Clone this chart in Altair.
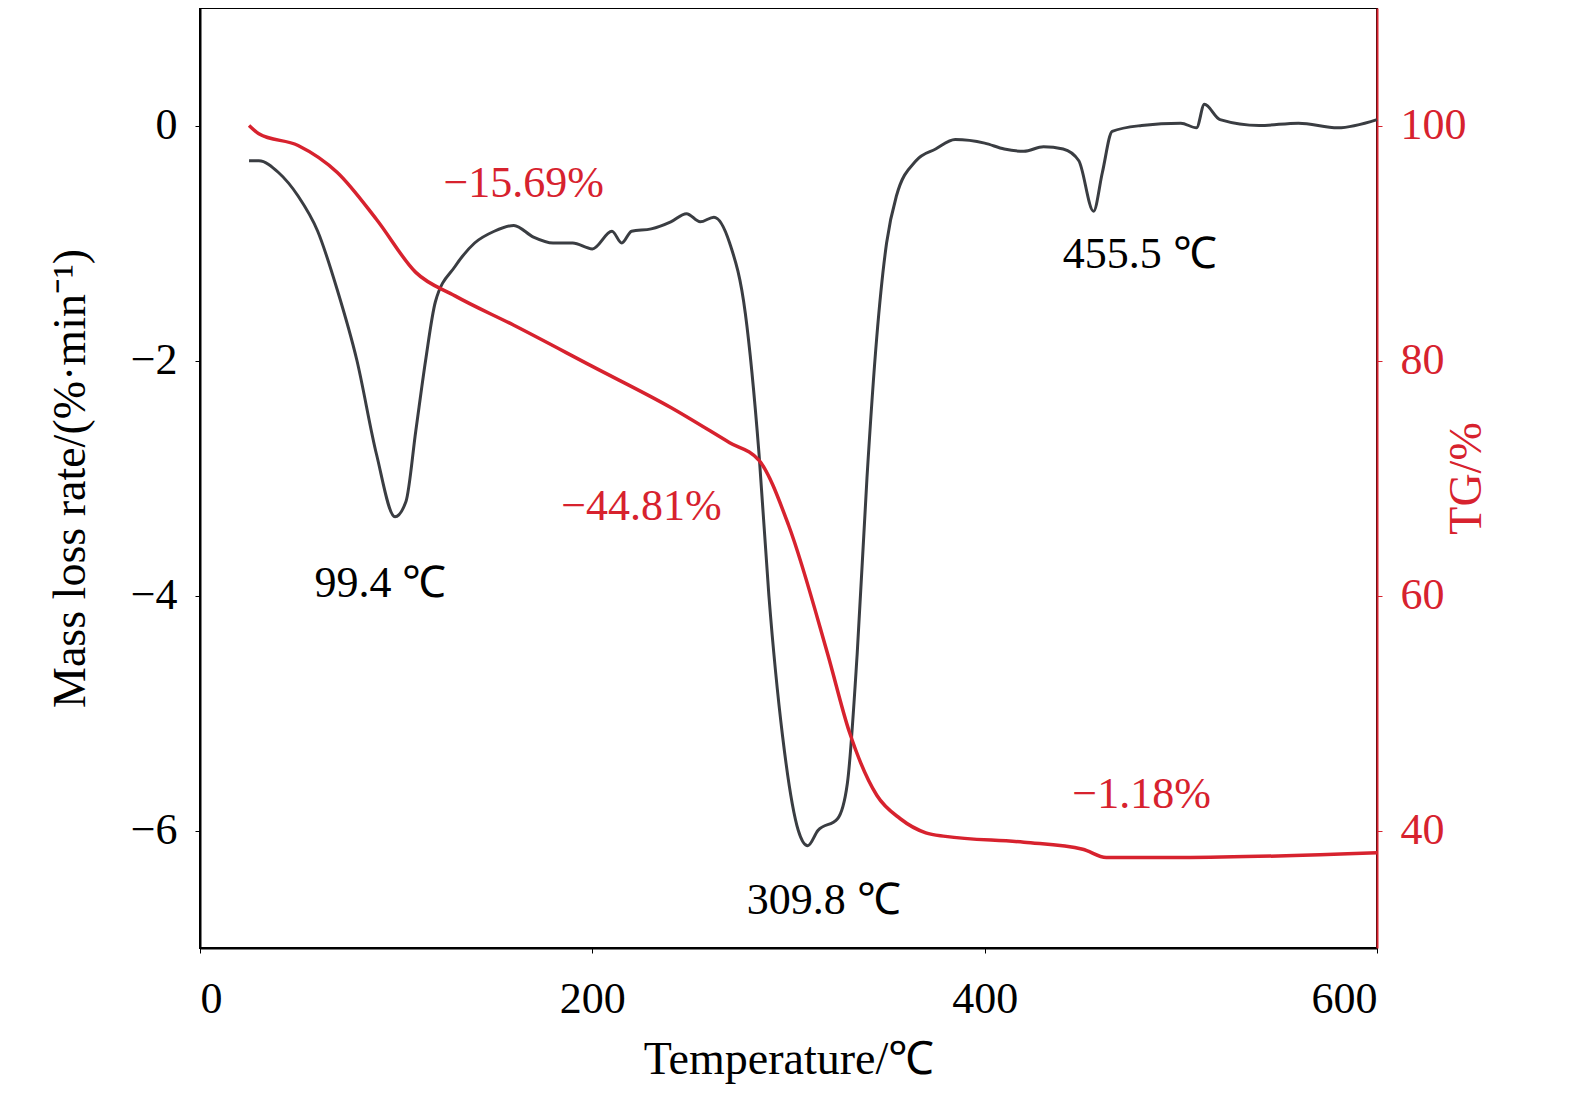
import altair as alt
import pandas as pd

dtg_t = [25, 30, 40, 50, 60, 70, 80, 90, 99.4, 105, 110, 115, 120, 130, 140, 150, 160, 170, 180,
         190, 200, 210, 215, 220, 230, 240, 248, 255, 262, 270, 278, 285, 290, 297, 305, 309.8,
         315, 325, 330, 335, 340, 345, 350, 355, 365, 375, 385, 400, 410, 420, 430, 440, 448,
         455.5, 460, 465, 480, 500, 508, 512, 520, 540, 560, 580, 600]
dtg_v = [-0.3, -0.3, -0.4, -0.6, -0.9, -1.4, -2.0, -2.8, -3.33, -3.2, -2.6, -2.0, -1.5, -1.2,
         -1.0, -0.9, -0.85, -0.95, -1.0, -1.0, -1.05, -0.9, -1.0, -0.9, -0.88, -0.82, -0.75,
         -0.82, -0.78, -1.0, -1.6, -2.8, -4.0, -5.2, -6.0, -6.13, -6.0, -5.9, -5.6, -4.5, -3.0,
         -1.8, -1.0, -0.6, -0.3, -0.2, -0.12, -0.15, -0.2, -0.22, -0.18, -0.2, -0.3, -0.73,
         -0.4, -0.05, 0.0, 0.02, -0.02, 0.18, 0.05, 0.0, 0.02, -0.02, 0.05]

tg_t = [25, 30, 50, 70, 90, 110, 130, 160, 200, 240, 270, 285, 300, 320, 331, 345, 357, 370,
        380, 420, 450, 462, 500, 600]
tg_v = [100, 99.3, 98.3, 96, 92, 87.5, 85.5, 83, 79.5, 76, 73, 71.5, 66, 55, 48.4, 43, 41, 39.8,
        39.5, 39.0, 38.4, 37.7, 37.7, 38.1]

left_notes = ["99.4 ℃", "309.8 ℃", "455.5 ℃"]
left_x = [92, 318, 479]
left_y = [-3.9, -6.6, -1.1]
right_notes = ["−15.69%", "−44.81%", "−1.18%"]
right_x = [165, 225, 480]
right_y = [95, 67.5, 43]

font = "Liberation Serif"
red = "#d7222e"

dtg = pd.DataFrame({"t": dtg_t, "v": dtg_v})
tg = pd.DataFrame({"t": tg_t, "v": tg_v})
ln = pd.DataFrame({"t": left_x, "v": left_y, "s": left_notes})
rn = pd.DataFrame({"t": right_x, "v": right_y, "s": right_notes})

x = alt.X("t:Q", scale=alt.Scale(domain=[0, 600], nice=False),
          axis=alt.Axis(values=[0, 200, 400, 600], title="Temperature/℃", grid=False,
                        labelFontSize=44, titleFontSize=46, labelFont=font, titleFont=font,
                        labelColor="black", titleColor="black", domainColor="black",
                        tickColor="black", domainWidth=2, labelPadding=24, titlePadding=16,
                        titleFontWeight="normal"))

yl = alt.Y("v:Q", scale=alt.Scale(domain=[-7, 1], nice=False),
           axis=alt.Axis(values=[-6, -4, -2, 0], title="Mass loss rate/(%·min⁻¹)", grid=False,
                         labelFontSize=44, titleFontSize=46, labelFont=font, titleFont=font,
                         labelColor="black", titleColor="black", domainColor="black",
                         tickColor="black", domainWidth=2, labelPadding=18, titlePadding=36,
                         titleFontWeight="normal", labelExpr="replace(datum.label, '-', '−')"))
yr = alt.Y("v:Q", scale=alt.Scale(domain=[30, 110], nice=False),
           axis=alt.Axis(orient="right", values=[40, 60, 80, 100], title="TG/%", grid=False,
                         labelFontSize=44, titleFontSize=46, labelFont=font, titleFont=font,
                         labelColor=red, titleColor=red, domainColor=red, tickColor=red,
                         domainWidth=2, labelPadding=18, titlePadding=24, titleAngle=270,
                         titleFontWeight="normal"))

left = alt.layer(
    alt.Chart(dtg).mark_line(color="#3a3d42", strokeWidth=3, interpolate="monotone").encode(x=x, y=yl),
    alt.Chart(ln).mark_text(fontSize=44, font=font, color="black").encode(x=x, y=yl, text="s:N"),
)
right = alt.layer(
    alt.Chart(tg).mark_line(color=red, strokeWidth=3.5, interpolate="monotone").encode(x=x, y=yr),
    alt.Chart(rn).mark_text(fontSize=44, font=font, color=red).encode(x=x, y=yr, text="s:N"),
)

chart = alt.layer(left, right).resolve_scale(y="independent").properties(
    width=1177, height=940,
    autosize=alt.AutoSizeParams(type="none"),
    padding={"left": 192, "top": 0, "right": 190, "bottom": 160},
).configure_view(stroke="black", strokeWidth=2)

chart.save("out.html", embed_options={"renderer": "svg", "actions": False})
